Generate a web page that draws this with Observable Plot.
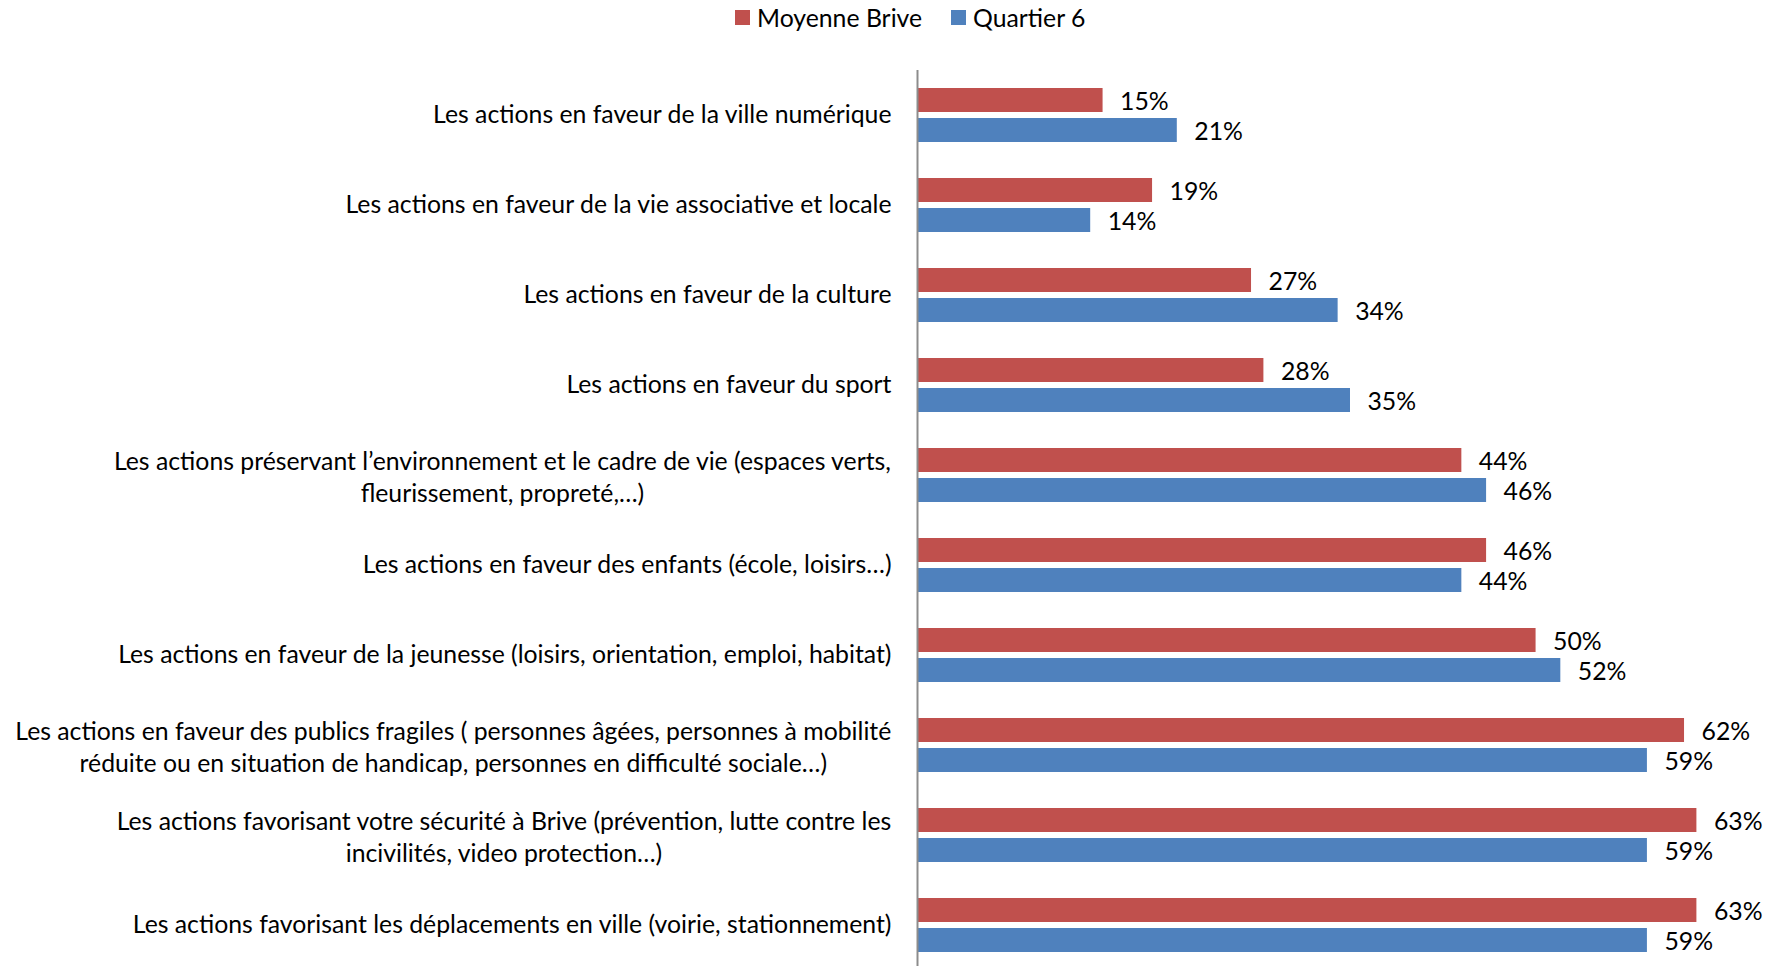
<!DOCTYPE html>
<html>
<head>
<meta charset="utf-8">
<script src="https://cdn.jsdelivr.net/npm/d3@7"></script>
<script src="https://cdn.jsdelivr.net/npm/@observablehq/plot@0.6"></script>
<style>
  html, body { margin: 0; padding: 0; background: #fff; overflow: hidden; }
  #legend { position: relative; height: 40px; font-family: Lato, sans-serif; color: #000; }
  .item { position: absolute; top: 0; height: 34px; display: flex; align-items: center; white-space: nowrap; }
  .sw { width: 15px; height: 15px; display: inline-block; margin-right: 7px; }
</style>
</head>
<body>
<div id="legend"></div>
<div id="chart"></div>
<script>
const categories = [
  "Les actions en faveur de la ville numérique",
  "Les actions en faveur de la vie associative et locale",
  "Les actions en faveur de la culture",
  "Les actions en faveur du sport",
  "Les actions préservant l’environnement et le cadre de vie (espaces verts,\nfleurissement, propreté,…)",
  "Les actions en faveur des enfants (école, loisirs…)",
  "Les actions en faveur de la jeunesse (loisirs, orientation, emploi, habitat)",
  "Les actions en faveur des publics fragiles ( personnes âgées, personnes à mobilité\nréduite ou en situation de handicap, personnes en difficulté sociale…)",
  "Les actions favorisant votre sécurité à Brive (prévention, lutte contre les\nincivilités, video protection…)",
  "Les actions favorisant les déplacements en ville (voirie, stationnement)"
];
const moyenneBrive = [15, 19, 27, 28, 44, 46, 50, 62, 63, 63];
const quartier6 = [21, 14, 34, 35, 46, 44, 52, 59, 59, 59];
const seriesNames = ["Moyenne Brive", "Quartier 6"];
const seriesColors = ["#C0504D", "#4F81BD"];

const rows = [];
categories.forEach((c, i) => {
  rows.push({cat: c, series: seriesNames[0], value: moyenneBrive[i]});
  rows.push({cat: c, series: seriesNames[1], value: quartier6[i]});
});

// font sizing: fit the longest label line to the reference width
const FONT = "Lato";
const canvas = document.createElement("canvas");
const ctx = canvas.getContext("2d");
function measure(t, fs) { ctx.font = `${fs}px ${FONT}`; return ctx.measureText(t).width; }
const refLine = "Les actions en faveur des publics fragiles ( personnes âgées, personnes à mobilité";
let fs = 24 * 877 / measure(refLine, 24);
fs = Math.max(18, Math.min(26, fs));
const lineHeight = 31.8 / fs;

// legend
const legend = document.getElementById("legend");
legend.style.fontSize = fs + "px";
const legendLeft = [735, 951];
seriesNames.forEach((s, i) => {
  const it = document.createElement("div");
  it.className = "item";
  it.style.left = legendLeft[i] + "px";
  it.innerHTML = `<span class="sw" style="background:${seriesColors[i]}"></span><span>${s}</span>`;
  legend.appendChild(it);
});

const labelMarks = categories.map(c => {
  const lines = c.split("\n");
  if (lines.length === 1) {
    return Plot.text([c], {fy: d => d, text: d => d, frameAnchor: "left", textAnchor: "end", dx: -26, fontSize: fs, fill: "#000"});
  }
  const maxW = Math.max(...lines.map(l => measure(l, fs)));
  return Plot.text([c], {fy: d => d, text: d => d, frameAnchor: "left", textAnchor: "middle", dx: -26 - maxW / 2, lineHeight, fontSize: fs, fill: "#000"});
});

const chart = Plot.plot({
  width: 1779,
  height: 930,
  marginTop: 30,
  marginBottom: 0,
  marginLeft: 917,
  marginRight: -4,
  style: {fontFamily: FONT, fontSize: fs + "px", color: "#000", background: "#fff"},
  x: {domain: [0, 70], axis: null},
  y: {domain: seriesNames, paddingInner: 0.2, paddingOuter: 0.6, axis: null},
  fy: {domain: categories, padding: 0, axis: null},
  color: {domain: seriesNames, range: seriesColors},
  marks: [
    Plot.barX(rows, {fy: "cat", y: "series", x: "value", fill: "series"}),
    Plot.text(rows, {fy: "cat", y: "series", x: "value", text: d => d.value + "%", textAnchor: "start", dx: 17, dy: 2, fontSize: fs, fill: "#000"}),
    Plot.ruleX([0], {stroke: "#8c8c8c", strokeWidth: 2}),
    ...labelMarks
  ]
});
document.getElementById("chart").appendChild(chart);
</script>
</body>
</html>
